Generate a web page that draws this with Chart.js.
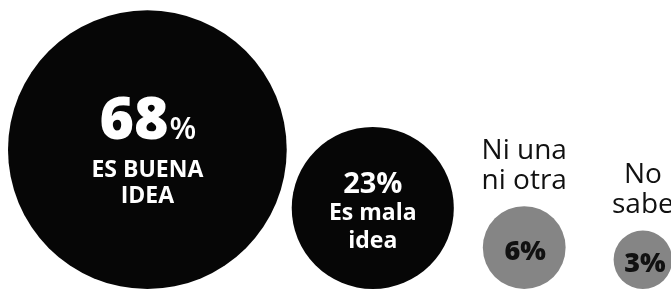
<!DOCTYPE html>
<html>
<head>
<meta charset="utf-8">
<script src="https://cdn.jsdelivr.net/npm/chart.js@4"></script>
<style>
  html, body { margin: 0; padding: 0; background: #fff; }
  #wrap { width: 671px; height: 289px; }
</style>
</head>
<body>
<div id="wrap"><canvas id="chart" width="671" height="289"></canvas></div>
<script>
// respuestas de la encuesta
const answers = ["Es buena idea", "Es mala idea", "Ni una ni otra", "No sabe"];
const percents = [68, 23, 6, 3];
const innerLines = [["ES BUENA", "IDEA"], ["Es mala", "idea"], [], []];
const outerLines = [[], [], ["Ni una", "ni otra"], ["No", "sabe"]];

// layout (pixels)
const W = 671, H = 289;
const radiusPerRoot = 16.9; // bubble area follows the percent
const leftMargin = 8;
const gaps = [0, 5, 29, 48];
const baseline = 289;
const colors = ["#060606", "#060606", "#858585", "#858585"];

// text styles per bubble
const styles = [
  { num: "800 59px 'Open Sans'", pct: "600 31px 'Open Sans'", numY: -11, sub: "700 23px 'Open Sans'", subY: 27, lh: 26, color: "#fff", dx: 0 },
  { num: "700 29px 'Open Sans'", pct: null, numY: -15, sub: "700 23px 'Open Sans'", subY: 12, lh: 28, color: "#fff", dx: 0 },
  { num: "800 27px 'Open Sans'", pct: null, numY: 12, color: "#111", dx: 1 },
  { num: "800 27px 'Open Sans'", pct: null, numY: 12, color: "#111", dx: 2 }
];

let right = leftMargin;
const points = percents.map((p, i) => {
  const r = radiusPerRoot * Math.sqrt(p);
  const x = right + gaps[i] + r;
  right = x + r;
  return { x: x, y: baseline - r, r: r };
});

const labelsPlugin = {
  id: "bubbleLabels",
  afterDatasetsDraw(chart) {
    const ctx = chart.ctx;
    const meta = chart.getDatasetMeta(0);
    ctx.save();
    ctx.textBaseline = "alphabetic";
    meta.data.forEach((el, i) => {
      const s = styles[i];
      const cx = el.x + s.dx;
      const cy = el.y;
      const r = points[i].r;
      ctx.fillStyle = s.color;
      // value
      if (s.pct) {
        ctx.font = s.num;
        const wn = ctx.measureText(String(percents[i])).width;
        ctx.font = s.pct;
        const wp = ctx.measureText("%").width;
        const x0 = cx - (wn + wp) / 2;
        ctx.textAlign = "left";
        ctx.font = s.num;
        ctx.fillText(String(percents[i]), x0, cy + s.numY);
        ctx.font = s.pct;
        ctx.fillText("%", x0 + wn + 1, cy + s.numY);
      } else {
        ctx.textAlign = "center";
        ctx.font = s.num;
        ctx.fillText(percents[i] + "%", cx, cy + s.numY);
      }
      ctx.textAlign = "center";
      innerLines[i].forEach((line, j) => {
        ctx.font = s.sub;
        ctx.fillText(line, cx, cy + s.subY + j * s.lh);
      });
      // labels above the small bubbles
      const top = cy - r;
      const out = outerLines[i];
      ctx.fillStyle = "#111";
      ctx.font = "400 28px 'Open Sans'";
      out.forEach((line, j) => {
        ctx.fillText(line, el.x, top - 17 - (out.length - 1 - j) * 30);
      });
    });
    ctx.restore();
  }
};

const ctx = document.getElementById("chart").getContext("2d");
const chart = new Chart(ctx, {
  type: "bubble",
  data: {
    labels: answers,
    datasets: [
      {
        label: "Respuestas",
        data: points,
        backgroundColor: colors,
        borderWidth: 0,
        hoverBorderWidth: 0,
        clip: false
      }
    ]
  },
  options: {
    responsive: false,
    animation: false,
    events: [],
    layout: { padding: 0, autoPadding: false },
    plugins: {
      legend: { display: false },
      tooltip: { enabled: false }
    },
    scales: {
      x: { type: "linear", min: 0, max: W, display: false },
      y: { type: "linear", min: 0, max: H, reverse: true, display: false }
    }
  },
  plugins: [labelsPlugin]
});
</script>
</body>
</html>
